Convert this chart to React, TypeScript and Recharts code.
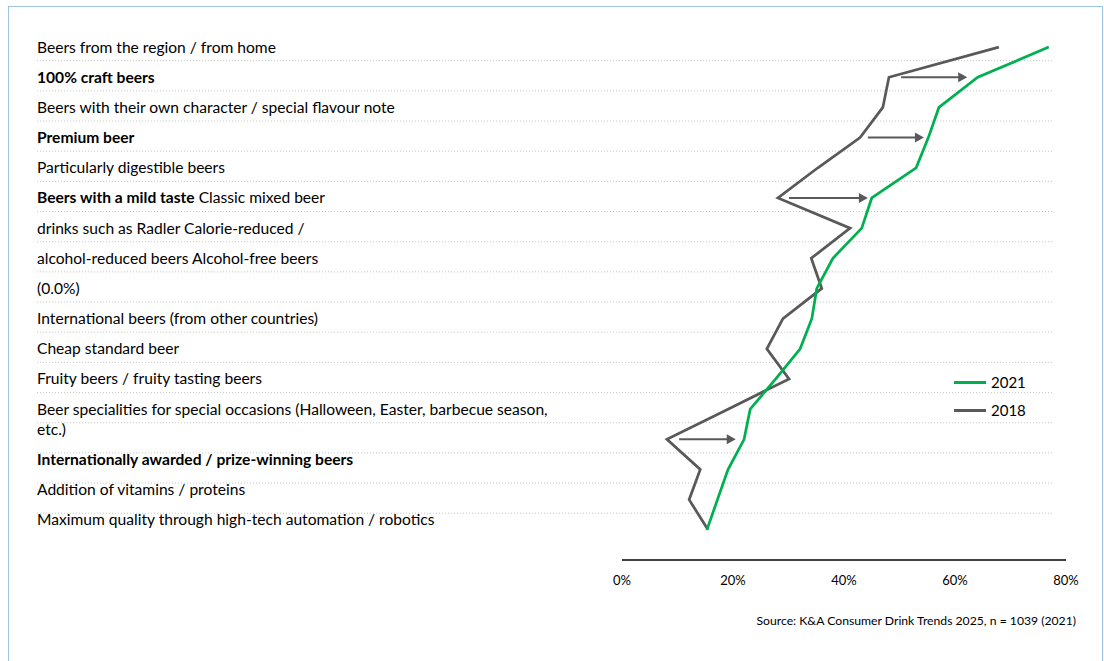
import { LineChart, Line, XAxis, YAxis, ReferenceLine, Legend } from "recharts";

type Seg = [string, boolean];

// row labels (one entry per label, each label may wrap over several lines)
const labels: Seg[][][] = [
  [[["Beers from the region / from home", false]]],
  [[["100% craft beers", true]]],
  [[["Beers with their own character / special flavour note", false]]],
  [[["Premium beer", true]]],
  [[["Particularly digestible beers", false]]],
  [[["Beers with a mild taste", true], [" Classic mixed beer", false]]],
  [[["drinks such as Radler Calorie-reduced /", false]]],
  [[["alcohol-reduced beers Alcohol-free beers", false]]],
  [[["(0.0%)", false]]],
  [[["International beers (from other countries)", false]]],
  [[["Cheap standard beer", false]]],
  [[["Fruity beers / fruity tasting beers", false]]],
  [
    [["Beer specialities for special occasions (Halloween, Easter, barbecue season,", false]],
    [["etc.)", false]],
  ],
  [[["Internationally awarded / prize-winning beers", true]]],
  [[["Addition of vitamins / proteins", false]]],
  [[["Maximum quality through high-tech automation / robotics", false]]],
];

// share in %, one value per row (17 rows)
const values2021 = [76.9, 64.1, 57.1, 55.2, 53.0, 45.0, 43.2, 38.0, 35.1, 34.2, 32.1, 27.7, 23.1, 22.0, 19.1, 17.2, 15.3];
const values2018 = [67.9, 48.1, 47.0, 42.9, 35.3, 28.1, 41.1, 34.1, 36.0, 29.0, 26.1, 30.1, 19.1, 8.1, 14.1, 12.1, 15.5];

// change arrows
const arrowRows = [1, 3, 5, 13];
const arrowFrom = [50.3, 44.3, 30.1, 10.3];
const arrowTo = [62.2, 54.4, 44.3, 20.5];

const xTicks = [0, 20, 40, 60, 80];

const series = [
  { key: "v2021", name: "2021", color: "#00b050" },
  { key: "v2018", name: "2018", color: "#595959" },
];

const data = values2021.map((v, i) => ({ idx: i, v2021: v, v2018: values2018[i] }));

const X_MIN = -105.4; // plot extends left under the label column
const LINE_GAP = 20;
const FONT = "Lato, 'Open Sans', sans-serif";

function LabelTick(props: any) {
  const { x, y, payload } = props;
  const i = payload.value as number;
  const label = labels[i];
  if (!label) return <g />;
  const extra = labels.slice(0, i).reduce((s, l) => s + l.length - 1, 0);
  return (
    <g>
      {label.map((line, li) => (
        <text
          key={li}
          x={x}
          y={y + (extra + li) * LINE_GAP}
          dy="0.35em"
          textAnchor="start"
          fontSize={15.6}
          fontFamily={FONT}
          fill="#000"
        >
          {line.map(([t, b], si) => (
            <tspan key={si} fontWeight={b ? 700 : 400}>
              {t}
            </tspan>
          ))}
        </text>
      ))}
    </g>
  );
}

function Arrow(props: any) {
  const { x1, y1, x2, y2 } = props;
  const head = 9;
  return (
    <g>
      <line x1={x1} y1={y1} x2={x2 - head + 1} y2={y2} stroke="#595959" strokeWidth={2} />
      <polygon points={`${x2},${y2} ${x2 - head},${y2 - 5} ${x2 - head},${y2 + 5}`} fill="#595959" />
    </g>
  );
}

function LegendBox() {
  return (
    <div style={{ fontFamily: FONT, fontSize: 15, color: "#000" }}>
      {series.map((s) => (
        <div key={s.key} style={{ display: "flex", alignItems: "center", height: 28 }}>
          <span style={{ display: "inline-block", width: 32, height: 3, background: s.color, marginRight: 5 }} />
          {s.name}
        </div>
      ))}
    </div>
  );
}

export default function App() {
  return (
    <div
      style={{
        position: "absolute",
        left: 8,
        top: 6,
        width: 1093,
        height: 658,
        border: "1px solid #9dc3e6",
        background: "#fff",
      }}
    >
      <LineChart
        width={1093}
        height={645}
        data={data}
        layout="vertical"
        margin={{ top: 25, right: 36, bottom: 62, left: 27 }}
      >
        <XAxis
          type="number"
          domain={[X_MIN, 80]}
          ticks={xTicks}
          interval={0}
          allowDataOverflow
          axisLine={false}
          tickLine={false}
          tickSize={0}
          tickMargin={16}
          height={30}
          tickFormatter={(v: number) => `${v}%`}
          tick={{ fill: "#000", fontSize: 13, fontFamily: FONT }}
        />
        <YAxis
          type="number"
          dataKey="idx"
          domain={[-0.5, 17]}
          width={1}
          ticks={labels.map((_, i) => i)}
          interval={0}
          axisLine={false}
          tickLine={false}
          tickSize={0}
          tickMargin={0}
          tick={(p: any) => <LabelTick {...p} />}
        />
        {labels.map((_, k) => (
          <ReferenceLine
            key={`g${k}`}
            segment={[
              { x: X_MIN, y: k + 0.45 },
              { x: 77.5, y: k + 0.45 },
            ]}
            stroke="#c6c6c6"
            strokeDasharray="1 2"
            ifOverflow="visible"
          />
        ))}
        <ReferenceLine
          segment={[
            { x: 0, y: 17 },
            { x: 80, y: 17 },
          ]}
          stroke="#000"
          strokeWidth={1.3}
          ifOverflow="visible"
        />
        <Line
          dataKey="v2018"
          name="2018"
          stroke="#595959"
          strokeWidth={2.75}
          dot={false}
          isAnimationActive={false}
        />
        <Line
          dataKey="v2021"
          name="2021"
          stroke="#00b050"
          strokeWidth={2.75}
          dot={false}
          isAnimationActive={false}
        />
        {arrowRows.map((r, i) => (
          <ReferenceLine
            key={`a${i}`}
            segment={[
              { x: arrowFrom[i], y: r },
              { x: arrowTo[i], y: r },
            ]}
            ifOverflow="visible"
            shape={<Arrow />}
          />
        ))}
        <Legend
          layout="vertical"
          align="center"
          verticalAlign="middle"
          content={<LegendBox />}
          wrapperStyle={{ left: 945, top: 361, width: 100 }}
        />
      </LineChart>
      <div
        style={{
          position: "absolute",
          right: 26,
          top: 606,
          fontFamily: FONT,
          fontSize: 12.2,
          color: "#000",
        }}
      >
        Source: K&amp;A Consumer Drink Trends 2025, n = 1039 (2021)
      </div>
    </div>
  );
}
